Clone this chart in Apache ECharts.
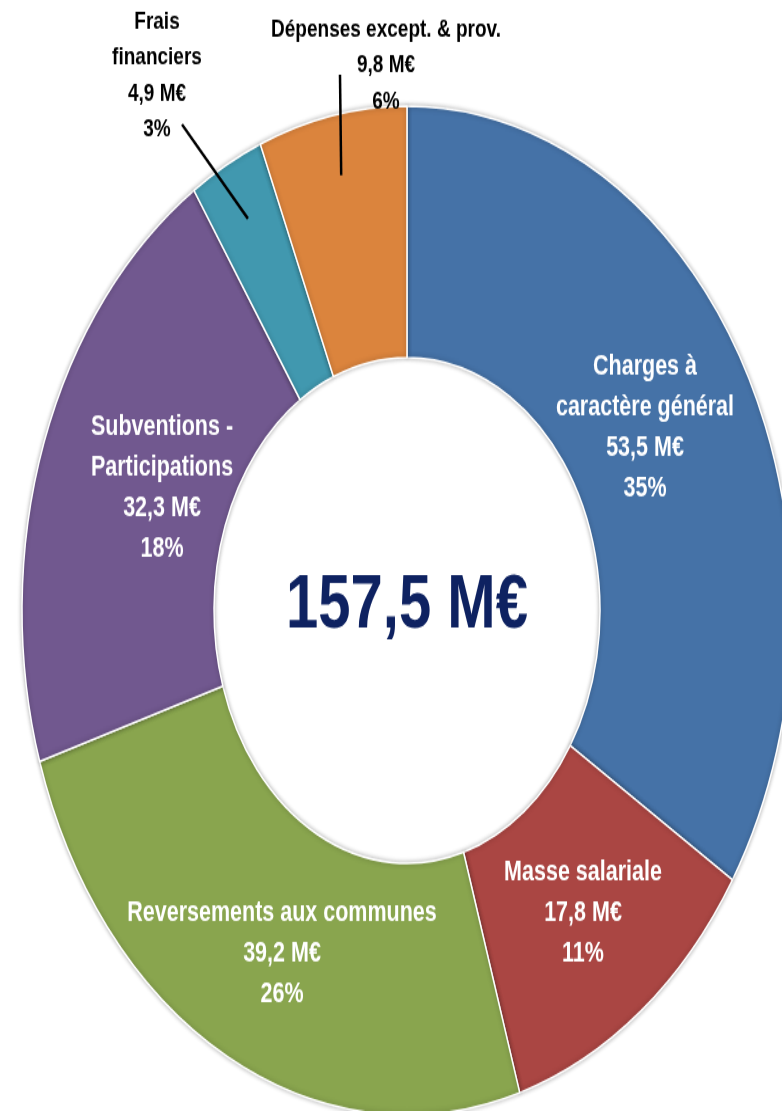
<!DOCTYPE html>
<html>
<head>
<meta charset="utf-8">
<script src="https://cdn.jsdelivr.net/npm/echarts@6/dist/echarts.min.js"></script>
<style>
    html, body { margin: 0; padding: 0; background: #fff; overflow: hidden; }
    #wrap { width: 782px; height: 1111px; overflow: hidden; }
    /* the reference is stretched vertically, so the whole chart is scaled */
    #container { width: 782px; height: 848px; transform: scaleY(1.31); transform-origin: 0 0; }
</style>
</head>
<body>
<div id="wrap"><div id="container"></div></div>
<script>
const names = ['Charges à\ncaractère général', 'Masse salariale', 'Reversements aux communes',
    'Subventions -\nParticipations', 'Frais\nfinanciers', 'Dépenses except. & prov.'];
const values = [53.5, 17.8, 39.2, 32.3, 4.9, 9.8];
const shares = ['35%', '11%', '26%', '18%', '3%', '6%'];
const totalText = '157,5 M€';

const colors = ['#4572A7', '#AA4643', '#89A54E', '#71588F', '#4198AF', '#DB843D'];
const font = "'Liberation Sans', Arial, sans-serif";
const cx = 407, cy = 466, r0 = 193, r1 = 385;

// label centres (px) and, for the small slices, where the leader line starts
const labelPos = [
    [645, 327], [583, 697], [282, 728], [162, 373],
    [157, 58, [182, 95]], [386, 50, [340, 57]]
];
const outside = [false, false, false, false, true, true];

const sum = values.reduce((a, b) => a + b, 0);
function midPoint(i, r) {
    let before = 0;
    for (let k = 0; k < i; k++) before += values[k];
    const a = (before + values[i] / 2) / sum * Math.PI * 2;
    return [cx + r * Math.sin(a), cy - r * Math.cos(a)];
}

// leader lines for the outside labels, ending inside their slice
const leaders = [];
labelPos.forEach((p, i) => {
    if (!p[2]) return;
    const end = midPoint(i, r1 * 0.88);
    leaders.push({
        type: 'line',
        z: 10,
        shape: { x1: p[2][0], y1: p[2][1], x2: end[0], y2: end[1] },
        style: { stroke: '#000', lineWidth: 2.5 }
    });
});

const myChart = echarts.init(document.getElementById('container'));
const option = {
    animation: false,
    color: colors,
    graphic: [{
        type: 'text',
        x: cx,
        y: 463,
        style: {
            text: totalText,
            fill: '#0E2261',
            font: 'bold 58px ' + font,
            textAlign: 'center',
            textVerticalAlign: 'middle'
        }
    }].concat(leaders),
    series: [
        {
            type: 'pie',
            center: [cx, cy],
            radius: [r0, r1],
            startAngle: 90,
            clockwise: true,
            avoidLabelOverlap: false,
            silent: true,
            itemStyle: {
                borderColor: '#fff',
                borderWidth: 1.5,
                shadowBlur: 4,
                shadowColor: 'rgba(0,0,0,0.3)'
            },
            label: {
                show: true,
                position: 'inside',
                color: '#fff',
                fontFamily: font,
                fontWeight: 'bold',
                fontSize: 21.5,
                lineHeight: 31,
                align: 'center',
                formatter: p => p.name + '\n' + String(p.value.toFixed(1)).replace('.', ',') + ' M€\n' + shares[p.dataIndex]
            },
            labelLine: { show: false },
            labelLayout: function (params) {
                const p = labelPos[params.dataIndex];
                return { x: p[0], y: p[1], align: 'center', verticalAlign: 'middle' };
            },
            data: values.map((v, i) => ({
                name: names[i],
                value: v,
                label: outside[i] ? { position: 'outside', color: '#000', fontSize: 19, lineHeight: 27.5 } : {},
                labelLine: { show: false }
            }))
        }
    ]
};
myChart.setOption(option);
window.addEventListener('resize', () => {
    myChart.resize()
})
</script>
</body>
</html>
